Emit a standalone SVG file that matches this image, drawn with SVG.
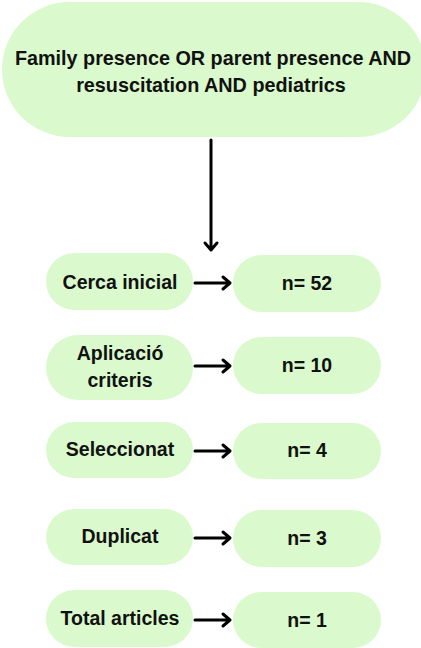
<svg xmlns="http://www.w3.org/2000/svg" width="421" height="648" viewBox="0 0 421 648">
<style>
.pill{fill:#dafacd;}
.t{font-family:"Liberation Sans",Arial,sans-serif;font-weight:bold;font-size:19.5px;fill:#111;text-anchor:middle;}
.ln{stroke:#000;stroke-width:3;fill:none;stroke-linecap:round;stroke-linejoin:round;}
</style>
<rect width="421" height="648" fill="#fff"/>
<g id="query">
<rect class="pill" x="2" y="2" width="424" height="135" rx="67.5"/>
<text class="t" x="213" y="65" style="font-size:19.8px">Family presence OR parent presence AND</text>
<text class="t" x="211" y="92" style="font-size:19.8px">resuscitation AND pediatrics</text>
</g>
<g id="cerca"><rect class="pill" x="46" y="253" width="147" height="57" rx="28.5"/><text class="t" x="120" y="289">Cerca inicial</text></g>
<g id="n52"><rect class="pill" x="233" y="255" width="148" height="57" rx="28.5"/><text class="t" x="307" y="290">n= 52</text></g>
<g id="aplicacio"><rect class="pill" x="46" y="335" width="147" height="65" rx="32"/><text class="t" x="120" y="360">Aplicació</text><text class="t" x="120" y="387">criteris</text></g>
<g id="n10"><rect class="pill" x="233" y="337" width="148" height="57" rx="28.5"/><text class="t" x="307" y="372">n= 10</text></g>
<g id="seleccionat"><rect class="pill" x="46" y="422" width="147" height="56" rx="28"/><text class="t" x="120" y="456">Seleccionat</text></g>
<g id="n4"><rect class="pill" x="233" y="423" width="148" height="56" rx="28"/><text class="t" x="307" y="457">n= 4</text></g>
<g id="duplicat"><rect class="pill" x="46" y="509" width="147" height="56" rx="28"/><text class="t" x="120" y="543">Duplicat</text></g>
<g id="n3"><rect class="pill" x="233" y="510" width="148" height="57" rx="28.5"/><text class="t" x="307" y="545">n= 3</text></g>
<g id="total"><rect class="pill" x="46" y="590" width="147" height="57" rx="28.5"/><text class="t" x="120" y="625">Total articles</text></g>
<g id="n1"><rect class="pill" x="233" y="592" width="148" height="56" rx="28"/><text class="t" x="307" y="627">n= 1</text></g>
<g id="connectors">
<path class="ln" d="M211 140V250M205 243L211 250L217 243"/>
<path class="ln" d="M195 283H230M223 277L230 283L223 289"/>
<path class="ln" d="M195 366H230M223 360L230 366L223 372"/>
<path class="ln" d="M195 451H230M223 445L230 451L223 457"/>
<path class="ln" d="M195 538H230M223 532L230 538L223 544"/>
<path class="ln" d="M195 620H230M223 614L230 620L223 626"/>
</g>
</svg>
